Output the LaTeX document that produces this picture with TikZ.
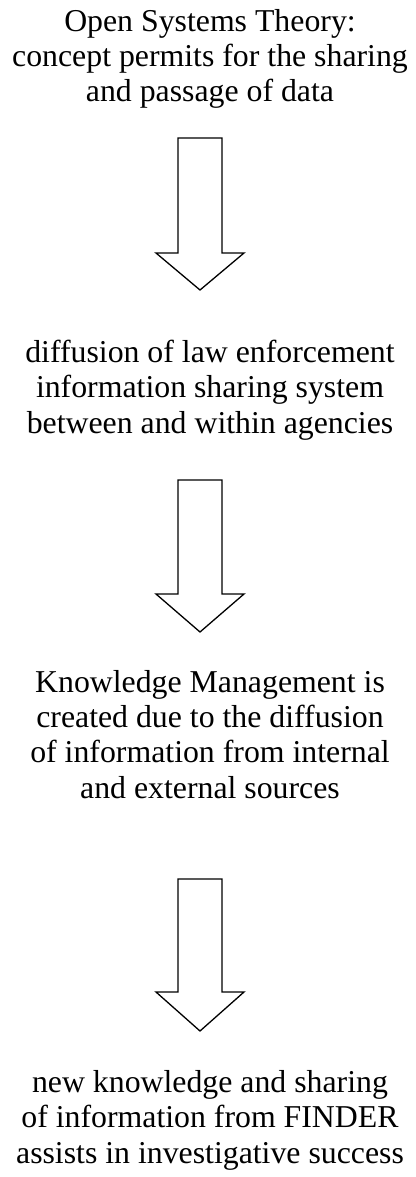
\documentclass[tikz,border=0pt]{standalone}
\usepackage{fontspec}
\setmainfont{Liberation Serif}
\begin{document}
\begin{tikzpicture}[x=1pt, y=-1pt,
  txt/.style={align=center, font=\fontsize{31.8}{35.3}\selectfont, inner sep=0pt, anchor=base},
  blockarrow/.style={draw=black, line width=1.3pt, line join=miter, fill=white}]
\useasboundingbox (0,0) rectangle (415,1177);

% text blocks, anchored at the baseline of their last line
\node[txt] (t1) at (210,102) {Open Systems Theory:\\concept permits for the sharing\\and passage of data};
\node[txt] (t2) at (210,433) {diffusion of law enforcement\\information sharing system\\between and within agencies};
\node[txt] (t3) at (210,798) {Knowledge Management is\\created due to the diffusion\\of information from internal\\and external sources};
\node[txt] (t4) at (210,1163) {new knowledge and sharing\\of information from FINDER\\assists in investigative success};

% hollow block arrows between the blocks
\draw[blockarrow] (178,138) -- (222,138) -- (222,253) -- (244,253) -- (200,290) -- (156,253) -- (178,253) -- cycle;
\draw[blockarrow] (178,480) -- (222,480) -- (222,594) -- (244,594) -- (200,632) -- (156,594) -- (178,594) -- cycle;
\draw[blockarrow] (178,879) -- (222,879) -- (222,992) -- (244,992) -- (200,1031) -- (156,992) -- (178,992) -- cycle;
\end{tikzpicture}
\end{document}
